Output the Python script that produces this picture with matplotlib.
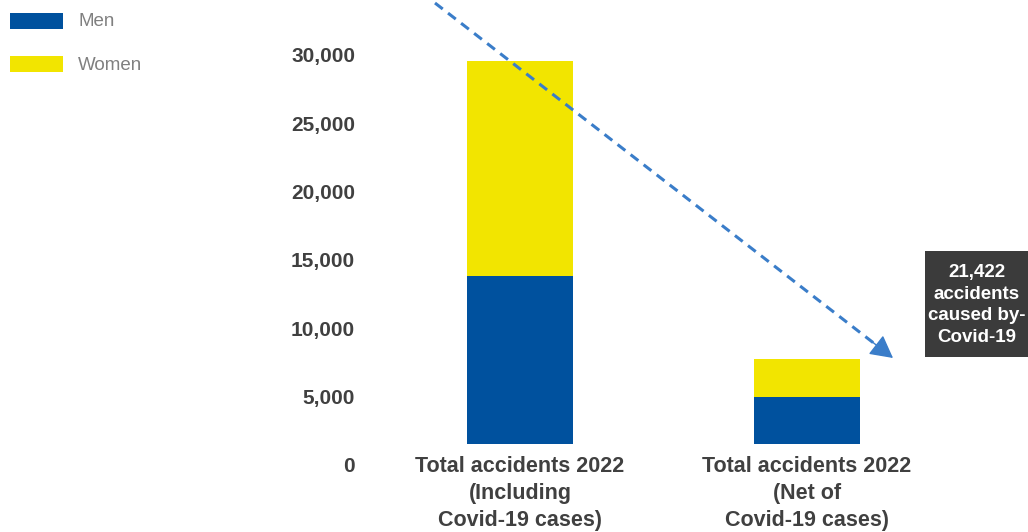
import matplotlib
matplotlib.use("Agg")
import matplotlib.pyplot as plt
import matplotlib.transforms as mtransforms
from matplotlib.patches import Rectangle
from matplotlib.lines import Line2D

# Data
categories = [
    "Total accidents 2022\n(Including\nCovid-19 cases)",
    "Total accidents 2022\n(Net of\nCovid-19 cases)",
]
men = [12300, 3420]
women = [15700, 2780]
y_ticks = [0, 5000, 10000, 15000, 20000, 25000, 30000]
y_tick_labels = ["0", "5,000", "10,000", "15,000", "20,000", "25,000", "30,000"]
covid_accidents = 21422

BLUE = "#00519E"
YELLOW = "#F2E500"
ARROW = "#3A7DC9"
TEXT = "#404040"
plt.rcParams["font.family"] = ["Liberation Sans", "DejaVu Sans"]

W, H = 1028, 532
fig = plt.figure(figsize=(W / 100, H / 100), dpi=100)

# axes placement in pixels
ax_left, ax_right = 380, 940
ax_bottom, ax_top = 532 - 443.7, 532
ax = fig.add_axes([ax_left / W, ax_bottom / H, (ax_right - ax_left) / W, (ax_top - ax_bottom) / H])

x = [0, 1]
bar_w = 106 / 287
ax.bar(x, men, width=bar_w, color=BLUE, zorder=2)
ax.bar(x, women, width=bar_w, bottom=men, color=YELLOW, zorder=2)

ax.set_xlim((ax_left - 520) / 287, (ax_right - 520) / 287)
ymax = 443.7 / (68.3 / 5000)
ax.set_ylim(0, ymax)

for s in ax.spines.values():
    s.set_visible(False)
ax.tick_params(axis="both", length=0)

ax.set_yticks(y_ticks)
ax.set_yticklabels(y_tick_labels, fontsize=15, fontweight="bold", color=TEXT)
ax.tick_params(axis="y", pad=18)
# tick labels sit slightly below their grid values
offset = mtransforms.ScaledTranslation(0, -21 / 100, fig.dpi_scale_trans)
for lbl in ax.get_yticklabels():
    lbl.set_transform(lbl.get_transform() + offset)

ax.set_xticks(x)
ax.set_xticklabels(categories, fontsize=15.5, fontweight="bold", color=TEXT,
                   linespacing=1.38)
ax.tick_params(axis="x", pad=9)

# dashed arrow from the first total down to the second
x0, y0 = 435, 532 - 3
x1, y1 = 893, 532 - 358
fx = lambda px: px / W
fy = lambda py: py / H
t = 0.965  # dashed shaft stops where the solid head begins
fig.add_artist(Line2D([fx(x0), fx(x0 + (x1 - x0) * t)], [fy(y0), fy(y0 + (y1 - y0) * t)],
                      transform=fig.transFigure, color=ARROW, lw=2.2,
                      linestyle=(0, (3.2, 2.2)), solid_capstyle="butt"))
ax.annotate("", xy=(x1, y1), xycoords="figure pixels",
            xytext=(x0 + (x1 - x0) * 0.955, y0 + (y1 - y0) * 0.955),
            textcoords="figure pixels",
            arrowprops=dict(arrowstyle="-|>,head_length=1.4,head_width=0.75",
                            color=ARROW, lw=1.0, shrinkA=0, shrinkB=0))

# callout box
fig.patches.append(Rectangle((925 / W, (532 - 356.7) / H), (W - 925) / W, (356.7 - 251) / H,
                             transform=fig.transFigure, facecolor="#3B3B3B",
                             edgecolor="none", zorder=5))
fig.text(977 / W, (532 - 305) / H,
         f"{covid_accidents:,}\naccidents\ncaused by-\nCovid-19",
         ha="center", va="center", color="white", fontsize=13.5,
         fontweight="bold", linespacing=1.35, zorder=6)

# legend
for ypix, col, name in [(13, BLUE, "Men"), (56, YELLOW, "Women")]:
    fig.patches.append(Rectangle((10 / W, (532 - ypix - 16) / H), 53 / W, 16 / H,
                                 transform=fig.transFigure, facecolor=col,
                                 edgecolor="none"))
    fig.text(78 / W, (532 - ypix - 9) / H, name, ha="left", va="center",
             color="#808080", fontsize=13.5)

fig.savefig("out.png", dpi=100)
